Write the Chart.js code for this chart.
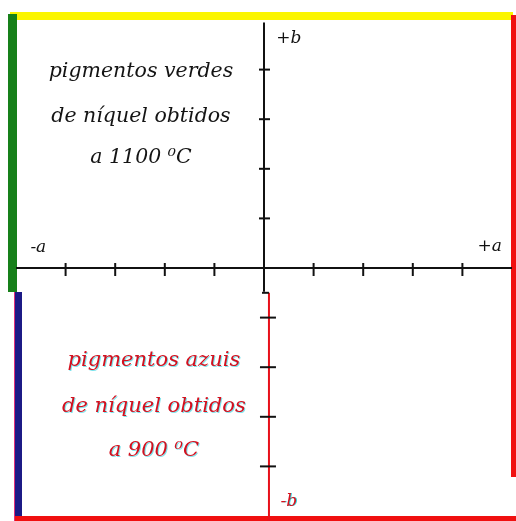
<!DOCTYPE html>
<html>
<head>
<meta charset="utf-8">
<script src="https://cdn.jsdelivr.net/npm/chart.js@4"></script>
<style>
	html, body { margin: 0; padding: 0; background: #fff; }
	#wrap { width: 516px; height: 521px; }
</style>
</head>
<body>
<div id="wrap"><canvas id="c" width="516" height="521"></canvas></div>
<script>
// tick positions on the a / b axes
const aTicks = [-4, -3, -2, -1, 1, 2, 3, 4];
const bPosTicks = [1, 2, 3, 4];
const bNegTicks = [-1, -2, -3, -4];

// axis end labels
const axisLabels = ["-a", "+a", "+b", "-b"];
const axisLabelPos = [[-4.55, 0.42], [4.55, 0.44], [0.5, 4.62], [0.5, -4.7]];

// notes in the two quadrants
const greenNote = ["pigmentos verdes", "de níquel obtidos", "a 1100 \u2070C"];
const greenNoteY = [3.95, 3.06, 2.23];
const blueNote = ["pigmentos azuis", "de níquel obtidos", "a 900 \u2070C"];
const blueNoteY = [-1.86, -2.8, -3.68];

const LOWER_SHIFT = 0.1; // lower half of the b axis sits a bit to the right

const frame = {
	id: "frame",
	beforeDraw(chart) {
		const ctx = chart.ctx;
		const a = chart.chartArea;
		ctx.save();
		ctx.fillStyle = "#fff";
		ctx.fillRect(0, 0, chart.width, chart.height);
		// yellow top
		ctx.fillStyle = "#fbf500";
		ctx.fillRect(a.left - 6, a.top - 8, a.right - a.left + 7, 8);
		// green left (upper half)
		ctx.fillStyle = "#17801a";
		ctx.fillRect(a.left - 8, a.top - 6, 9, 278);
		// blue left (lower half)
		ctx.fillStyle = "#e0307a";
		ctx.fillRect(a.left - 2, a.top + 272, 1, 229);
		ctx.fillStyle = "#1c1a86";
		ctx.fillRect(a.left - 1, a.top + 272, 7, 229);
		// red right and bottom
		ctx.fillStyle = "#f01010";
		ctx.fillRect(a.right - 1, a.top - 5, 5, 462);
		ctx.fillRect(a.left - 1, a.bottom, a.right - a.left + 6, 6);
		ctx.restore();
	},
	afterDatasetsDraw(chart) {
		const ctx = chart.ctx;
		const xs = chart.scales.x;
		const ys = chart.scales.y;
		ctx.save();
		ctx.textAlign = "center";
		ctx.textBaseline = "middle";

		// little bracket at the top of the lower axis
		ctx.strokeStyle = "#111";
		ctx.lineWidth = 2;
		ctx.beginPath();
		ctx.moveTo(xs.getPixelForValue(0) - 2, ys.getPixelForValue(-0.5));
		ctx.lineTo(xs.getPixelForValue(LOWER_SHIFT), ys.getPixelForValue(-0.5));
		ctx.stroke();

		ctx.font = "italic 17px 'DejaVu Serif'";
		axisLabels.forEach((t, i) => {
			const px = xs.getPixelForValue(axisLabelPos[i][0]);
			const py = ys.getPixelForValue(axisLabelPos[i][1]);
			if (t === "-b") {
				ctx.fillStyle = "#2fd8e0";
				ctx.fillText(t, px + 1, py);
				ctx.fillStyle = "#d8101c";
			} else {
				ctx.fillStyle = "#111";
			}
			ctx.fillText(t, px, py);
		});

		ctx.font = "italic 20.5px 'DejaVu Serif'";
		greenNote.forEach((t, i) => {
			ctx.fillStyle = "#141414";
			ctx.fillText(t, xs.getPixelForValue(-2.48), ys.getPixelForValue(greenNoteY[i]));
		});
		ctx.font = "italic 21px 'DejaVu Serif'";
		blueNote.forEach((t, i) => {
			const px = xs.getPixelForValue(-2.22);
			const py = ys.getPixelForValue(blueNoteY[i]);
			ctx.fillStyle = "rgba(40,210,225,0.6)";
			ctx.fillText(t, px + 1, py + 1);
			ctx.fillStyle = "#d4101e";
			ctx.fillText(t, px, py);
		});
		ctx.restore();
	},
};

new Chart(document.getElementById("c"), {
	type: "scatter",
	data: {
		datasets: [
			{
				// a axis
				data: [{ x: -5, y: 0 }, { x: 5, y: 0 }],
				showLine: true,
				borderColor: "#111",
				borderWidth: 2,
				pointRadius: 0,
				clip: false,
			},
			{
				// +b axis
				data: [{ x: 0, y: 4.95 }, { x: 0, y: -0.48 }],
				showLine: true,
				borderColor: "#111",
				borderWidth: 2,
				pointRadius: 0,
				clip: false,
			},
			{
				data: aTicks.map(v => ({ x: v, y: -0.03 })),
				pointStyle: "line",
				rotation: 90,
				pointRadius: 6.5,
				borderColor: "#111",
				pointBorderWidth: 2,
			},
			{
				data: bPosTicks.map(v => ({ x: 0.01, y: v })),
				pointStyle: "line",
				pointRadius: 5.5,
				borderColor: "#111",
				pointBorderWidth: 2,
			},
			{
				data: bNegTicks.map(v => ({ x: LOWER_SHIFT - 0.02, y: v })),
				pointStyle: "line",
				pointRadius: 8,
				borderColor: "#111",
				pointBorderWidth: 2,
			},
			{
				// -b axis
				data: [{ x: LOWER_SHIFT, y: -0.5 }, { x: LOWER_SHIFT, y: -5.15 }],
				showLine: true,
				borderColor: "#e8101a",
				borderWidth: 2,
				pointRadius: 0,
				clip: false,
			},
		],
	},
	options: {
		responsive: false,
		animation: false,
		layout: { autoPadding: false, padding: { left: 16, right: 4, top: 20, bottom: 5 } },
		scales: {
			x: { type: "linear", min: -5, max: 5, display: false },
			y: { type: "linear", min: -5, max: 5, display: false },
		},
		plugins: {
			legend: { display: false },
			tooltip: { enabled: false },
		},
	},
	plugins: [frame],
});
</script>
</body>
</html>
